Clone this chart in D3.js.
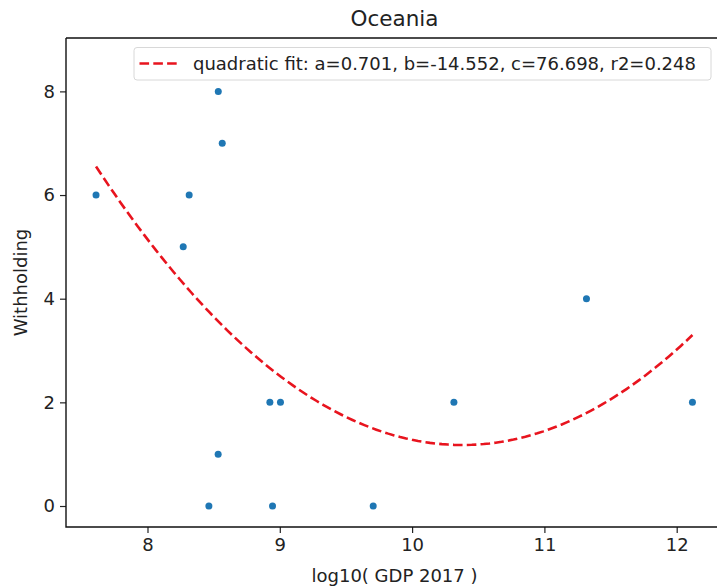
<!DOCTYPE html>
<html><head><meta charset="utf-8">
<script src="https://cdn.jsdelivr.net/npm/d3@7"></script>
<style>body{margin:0;background:#fff}svg{display:block}text{font-family:"DejaVu Sans",sans-serif;fill:#222}</style>
</head><body>
<svg id="c" width="717" height="588"></svg>
<script>
const gdpLog = [7.611, 8.535, 8.565, 8.315, 8.270, 8.925, 9.005, 8.534, 8.464, 8.945, 9.706, 10.316, 11.318, 12.119];
const withholding = [6, 8, 7, 6, 5, 2, 2, 1, 0, 0, 0, 2, 4, 2];
const fitCoef = {a: 0.701, b: -14.552, c: 76.698, r2: 0.248};
const xTicks = [8, 9, 10, 11, 12];
const yTicks = [0, 2, 4, 6, 8];
const titleText = "Oceania";
const xLabel = "log10( GDP 2017 )";
const yLabel = "Withholding";

const svg = d3.select("#c");
const L = 66, R = 723, T = 38, B = 527;
const x = d3.scaleLinear().domain([7.384, 12.35]).range([L, R]);
const y = d3.scaleLinear().domain([-0.405, 9.03]).range([B, T]);

const fs = 18;
// fit line
const xmin = d3.min(gdpLog), xmax = d3.max(gdpLog);
const fitPts = d3.range(0, 101).map(i => {
  const xv = xmin + (xmax - xmin) * i / 100;
  return [xv, fitCoef.a * xv * xv + fitCoef.b * xv + fitCoef.c];
});
svg.append("path").datum(fitPts)
  .attr("d", d3.line().x(d => x(d[0])).y(d => y(d[1])))
  .attr("fill", "none").attr("stroke", "#e8141e").attr("stroke-width", 2.6)
  .attr("stroke-dasharray", "9.6,4.2");

// points
svg.append("g").selectAll("circle").data(gdpLog).join("circle")
  .attr("cx", (d) => x(d)).attr("cy", (d, i) => y(withholding[i]))
  .attr("r", 3.5).attr("fill", "#1f77b4");

// axes
const xAxis = svg.append("g").attr("transform", `translate(0,${B})`)
  .call(d3.axisBottom(x).tickValues(xTicks).tickSize(6).tickPadding(5).tickFormat(d3.format("d")));
const yAxis = svg.append("g").attr("transform", `translate(${L},0)`)
  .call(d3.axisLeft(y).tickValues(yTicks).tickSize(6).tickPadding(5).tickFormat(d3.format("d")));
[xAxis, yAxis].forEach(g => {
  g.select(".domain").remove();
  g.selectAll("line").attr("stroke", "#222").attr("stroke-width", 1.2);
  g.selectAll("text").style("font-size", fs + "px").attr("fill", "#222");
});
// spines
svg.append("path").attr("d", `M${L},${T}H${R}M${L},${T}V${B}H${R}`)
  .attr("fill", "none").attr("stroke", "#111").attr("stroke-width", 1.4);

// legend
const lg = svg.append("g");
lg.append("rect").attr("x", 134).attr("y", 47.5).attr("width", 577).attr("height", 32.5)
  .attr("rx", 3).attr("fill", "#fff").attr("fill-opacity", 0.85).attr("stroke", "#d8d8d8").attr("stroke-width", 1);
lg.append("line").attr("x1", 139.5).attr("x2", 179).attr("y1", 63.5).attr("y2", 63.5)
  .attr("stroke", "#e8141e").attr("stroke-width", 2.6).attr("stroke-dasharray", "9.6,4.2");
lg.append("text").attr("x", 193).attr("y", 70).style("font-size", fs + "px")
  .text(`quadratic fit: a=${fitCoef.a.toFixed(3)}, b=${fitCoef.b.toFixed(3)}, c=${fitCoef.c.toFixed(3)}, r2=${fitCoef.r2.toFixed(3)}`);

// titles
svg.append("text").attr("x", (L + R) / 2).attr("y", 26).attr("text-anchor", "middle")
  .style("font-size", "21.5px").text(titleText);
svg.append("text").attr("x", (L + R) / 2).attr("y", 582).attr("text-anchor", "middle")
  .style("font-size", fs + "px").text(xLabel);
svg.append("text").attr("transform", `translate(27,${(T + B) / 2}) rotate(-90)`).attr("text-anchor", "middle")
  .style("font-size", fs + "px").text(yLabel);
</script>
</body></html>
